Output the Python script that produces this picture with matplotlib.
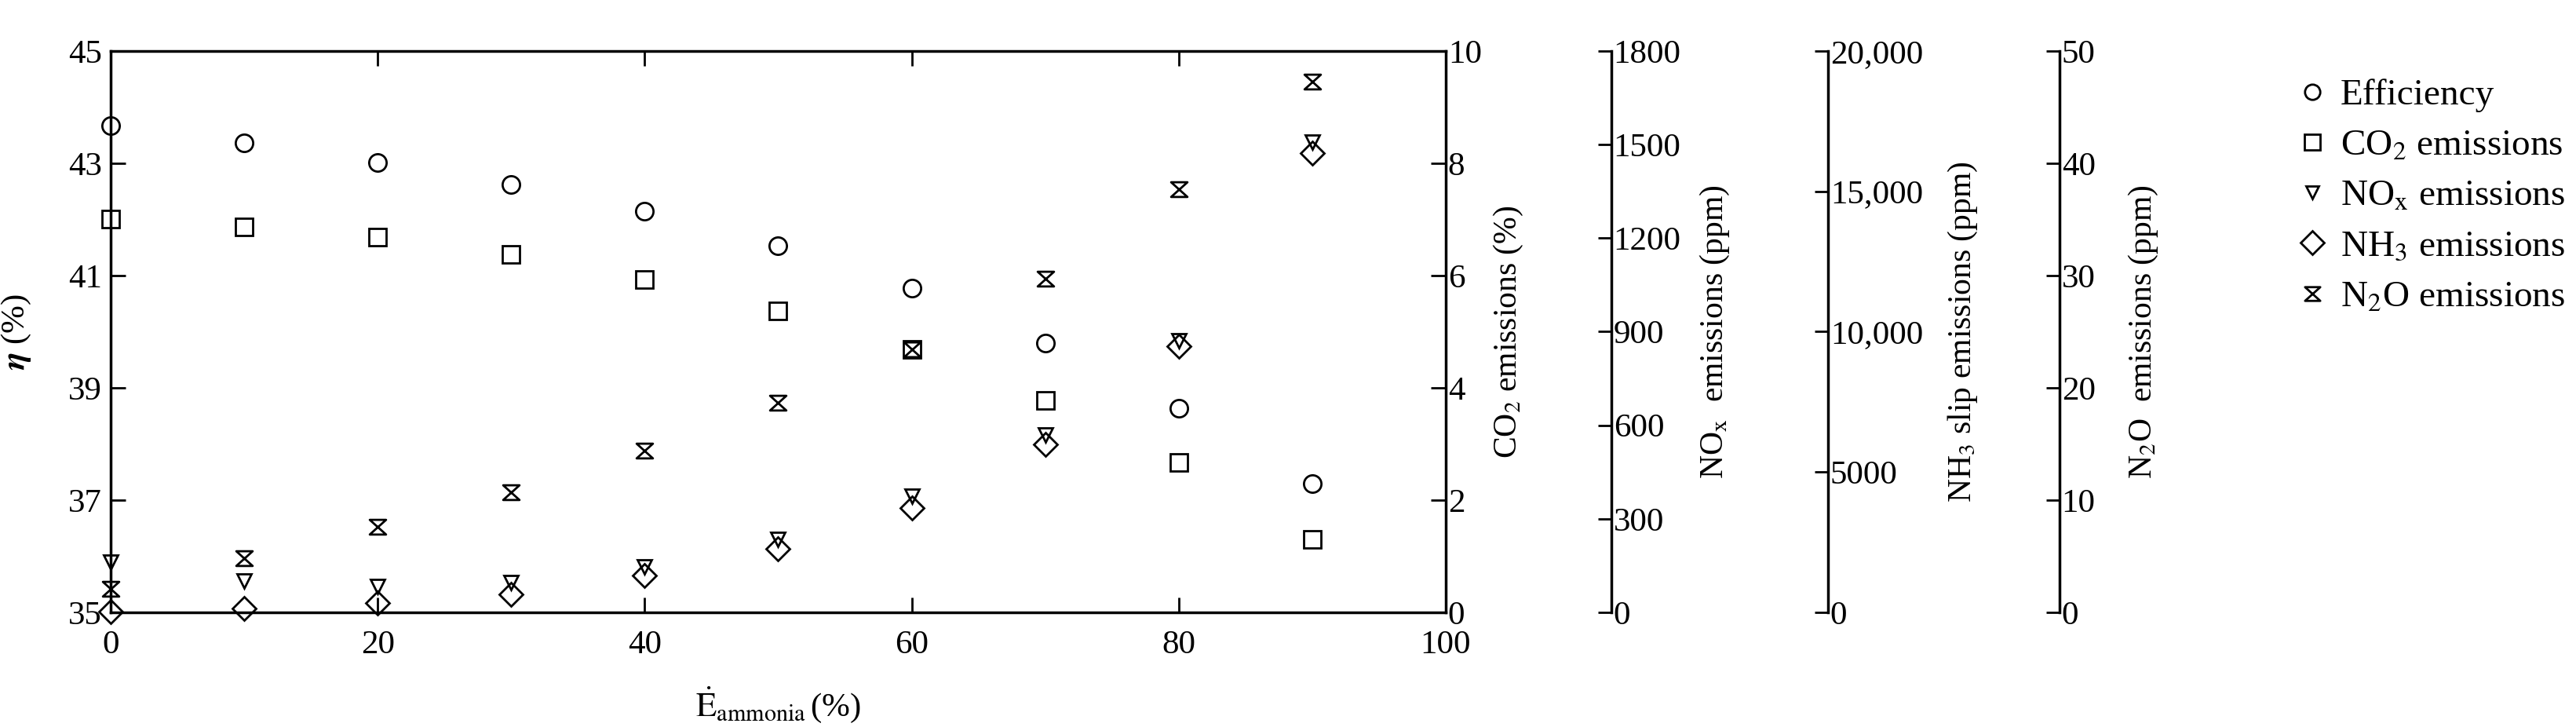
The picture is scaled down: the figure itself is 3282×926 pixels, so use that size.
import matplotlib
matplotlib.use("Agg")
import matplotlib.pyplot as plt
from matplotlib.path import Path
from matplotlib.lines import Line2D

plt.rcParams['font.family'] = ['Liberation Serif', 'DejaVu Serif']
plt.rcParams['mathtext.fontset'] = 'stix'

# ammonia energy share (%)
ammonia = [0, 10, 20, 30, 40, 50, 60, 70, 80, 90]
efficiency = [43.67, 43.36, 43.02, 42.62, 42.14, 41.53, 40.77, 39.80, 38.63, 37.29]
co2 = [7.01, 6.87, 6.68, 6.38, 5.93, 5.37, 4.68, 3.77, 2.67, 1.30]
nox = [160, 101, 82, 95, 145, 235, 372, 568, 872, 1509]
nh3 = [30, 141, 329, 657, 1315, 2254, 3732, 5983, 9490, 16374]
n2o = [2.1, 4.8, 7.6, 10.7, 14.4, 18.7, 23.4, 29.7, 37.7, 47.3]

nh3_ticks = [0, 5000, 10000, 15000, 20000]
nh3_ticklabels = ['0', '5000', '10,000', '15,000', '20,000']

# hourglass marker
hourglass = Path([(-1, 0.9), (1, 0.9), (-1, -0.9), (1, -0.9), (-1, 0.9)],
                 [Path.MOVETO, Path.LINETO, Path.LINETO, Path.LINETO, Path.CLOSEPOLY])

W, H = 3282, 926
fig = plt.figure(figsize=(W / 100, H / 100), dpi=100)
L, R, T, B = 141, 1842, 65, 780
ax = fig.add_axes([L / W, 1 - B / H, (R - L) / W, (B - T) / H])

tick_kw = dict(direction='in', length=14, width=2, labelsize=31)
mk = dict(linestyle='none', markerfacecolor='none', markeredgecolor='black', markeredgewidth=2, clip_on=False)

ax.set_xlim(0, 100)
ax.set_ylim(35, 45)
ax.set_xticks(range(0, 101, 20))
ax.set_yticks(range(35, 46, 2))
ax.tick_params(top=True, **tick_kw)
ax.tick_params(axis='x', pad=16)
ax.tick_params(axis='y', pad=8)
for s in ax.spines.values():
    s.set_linewidth(2.5)
ax.plot(ammonia, efficiency, marker='o', markersize=16, zorder=5, **mk)
ax.set_xlabel(r'$\dot{\mathrm{E}}_{\mathrm{ammonia}}\,$(%)', fontsize=31)
ax.xaxis.set_label_coords(0.5, -0.13)
ax.set_ylabel(r'$\boldsymbol{\eta}$ (%)', fontsize=31)
ax.yaxis.set_label_coords(-0.058, 0.5)

# CO2 axis on the right of the frame
ax2 = ax.twinx()
ax2.set_ylim(0, 10)
ax2.set_yticks(range(0, 11, 2))
ax2.tick_params(pad=2, **tick_kw)
ax2.plot(ammonia, co2, marker='s', markersize=16, zorder=5, **mk)
ax2.set_ylabel(r'CO$_2$ emissions (%)', fontsize=30, va='center')
ax2.yaxis.set_label_coords(1.047, 0.5)


def extra_axis(pos, lim, ticks, label, labelx):
    a = ax.twinx()
    a.spines['right'].set_position(('axes', pos))
    a.spines['right'].set_linewidth(2.5)
    for s in ['left', 'top', 'bottom']:
        a.spines[s].set_visible(False)
    a.set_ylim(*lim)
    a.set_yticks(ticks)
    a.tick_params(direction='in', length=12, width=2, labelsize=31, pad=2)
    a.set_ylabel(label, fontsize=30, va='center')
    a.yaxis.set_label_coords(labelx, 0.5)
    return a


ax3 = extra_axis(1.124, (0, 1800), range(0, 1801, 300), r'NO$_\mathrm{x}$  emissions (ppm)', 1.2017)
ax3.plot(ammonia, nox, marker='v', markersize=13, zorder=5, **mk)

ax4 = extra_axis(1.2863, (0, 20000), nh3_ticks, r'NH$_3$ slip emissions (ppm)', 1.3874)
ax4.set_yticklabels(nh3_ticklabels)
ax4.plot(ammonia, nh3, marker='D', markersize=15, zorder=5, **mk)

ax5 = extra_axis(1.4597, (0, 50), range(0, 51, 10), r'N$_2$O  emissions (ppm)', 1.5226)
ax5.plot(ammonia, n2o, marker=hourglass, markersize=15, zorder=5, **mk)

handles = [
    Line2D([], [], marker='o', markersize=14, **mk),
    Line2D([], [], marker='s', markersize=14, **mk),
    Line2D([], [], marker='v', markersize=12, **mk),
    Line2D([], [], marker='D', markersize=15, **mk),
    Line2D([], [], marker=hourglass, markersize=14, **mk),
]
labels = ['Efficiency', r'CO$_2$ emissions', r'NO$_\mathrm{x}$ emissions',
          r'NH$_3$ emissions', r'N$_2$O emissions']
fig.legend(handles, labels, loc='upper left', bbox_to_anchor=(2925 / W, 1 - 100 / H),
           frameon=False, fontsize=34, handlelength=0.9, handletextpad=0.3,
           labelspacing=0.45, borderaxespad=0, borderpad=0)

fig.savefig('out.png', dpi=100)
